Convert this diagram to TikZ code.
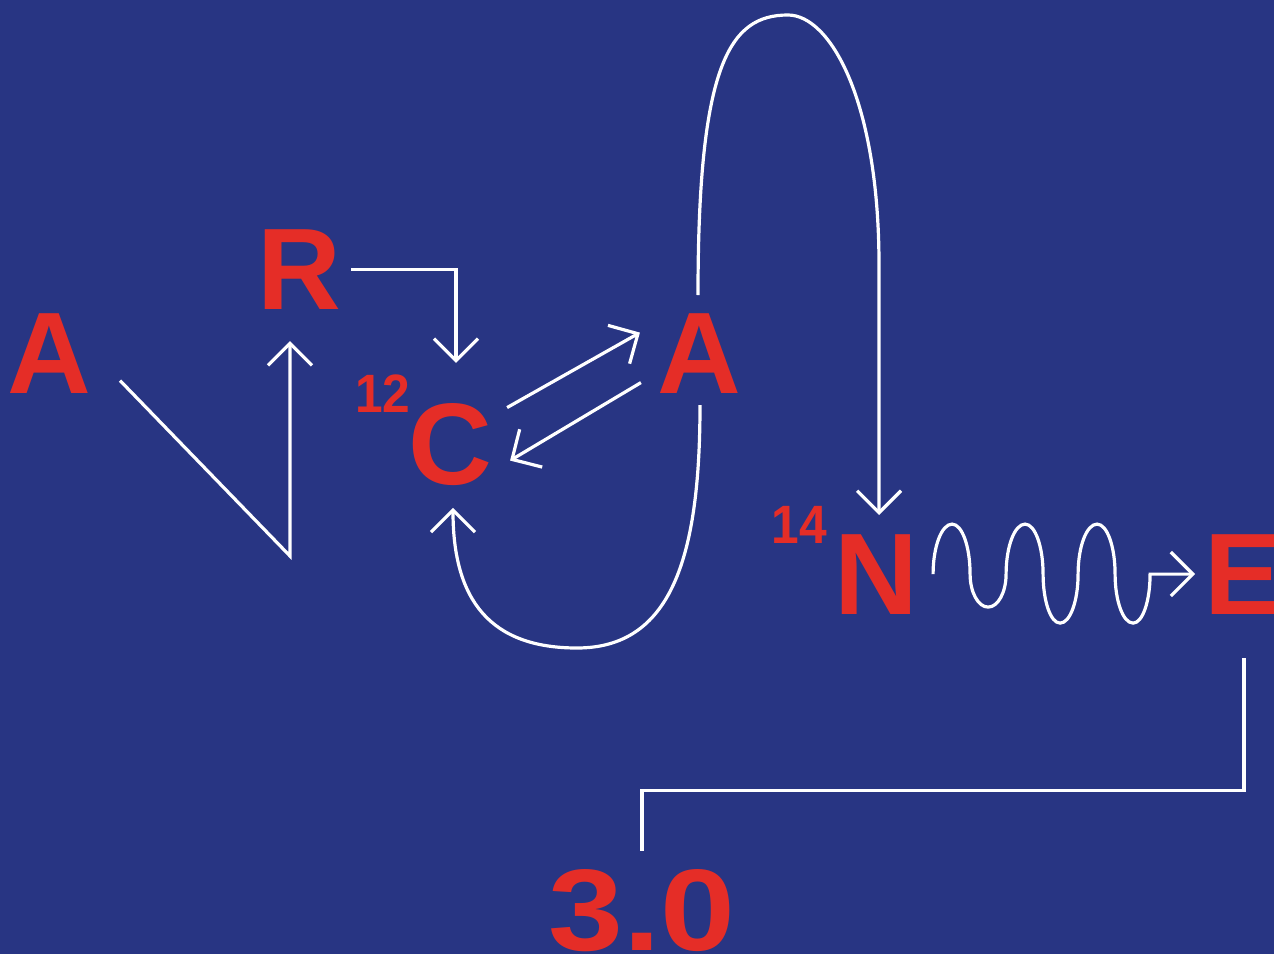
\documentclass[tikz,border=0pt]{standalone}
\usepackage{fontspec}
\setmainfont{Liberation Sans}
\usepackage{tikz}
\usetikzlibrary{arrows.meta,calc}
\definecolor{Navy}{RGB}{40,53,131}
\definecolor{AtomRed}{RGB}{229,45,39}
\tikzset{
  atom/.style={
    text=AtomRed,
    inner sep=0pt,
    anchor=base,
    font=\fontsize{116}{120}\selectfont\bfseries
  },
  massno/.style={
    text=AtomRed,
    inner sep=0pt,
    anchor=base,
    font=\fontsize{54}{58}\selectfont\bfseries
  },
  link/.style={
    draw=white,
    line width=3.2pt
  },
  linkarrow/.style={
    link,
    -{Straight Barb[length=22pt,width=44pt]}
  }
}

\begin{document}
\begin{tikzpicture}[x=1pt,y=-1pt]
\useasboundingbox (0,0) rectangle (1274,954);
\fill[Navy] (0,0) rectangle (1274,954);
\node[atom] (aL) at (49,393) {A};
\node[atom] (rR) at (299,309) {R};
\node[atom] (cC) at (450,484) {C};
\node[massno, xscale=0.92] (m12) at (383,412) {12};
\node[atom] (aR) at (699,393) {A};
\node[atom] (nN) at (876.5,614) {N};
\node[massno, xscale=0.92] (m14) at (799,543) {14};
\node[atom] (eE) at (1243,614) {E};
\node[atom, xscale=1.16] (v30) at (642,950) {3.0};
\coordinate (vee) at (290,556);
\coordinate (archtop) at (788,15);
\coordinate (archfoot) at (879,265);
\coordinate (loopbottom) at (577,648);
\draw[linkarrow] ($(aL.east)+(29,27.5)$) -- (vee) -- ($(rR.south)+(-9,32)$);
\draw[linkarrow] ($(rR.east)+(10,0)$) -| ($(cC.north)+(6,-40)$);
\draw[linkarrow] ($(cC.east)+(15,-36.5)$) -- ($(aR.west)+(-17,-20.5)$);
\draw[linkarrow] ($(aR.west)+(-16,29.5)$) -- ($(cC.east)+(18,16.5)$);
\draw[linkarrow] ($(aR.north)+(-1,-18)$) .. controls +(0,-232) and +(-58,0) .. (archtop)
  .. controls +(42,0) and +(0,-165) .. (archfoot) -- ($(nN.north)+(2.5,-19)$);
\draw[linkarrow] ($(aR.south)+(1,12)$) .. controls +(0,155) and +(93,0) .. (loopbottom)
  .. controls +(-87,0) and +(0,92) .. ($(cC.south)+(3,22.6)$);
\draw[linkarrow] ($(nN.east)+(14.5,0)$)
  .. controls +(0,-27.5) and +(-10.5,0) .. ++(19,-50) .. controls +(10,0) and +(0,-27.5) .. ++(18,50)
  .. controls +(0,18) and +(-10,0) .. ++(18,33) .. controls +(10,0) and +(0,18) .. ++(18,-33)
  .. controls +(0,-27.5) and +(-10.5,0) .. ++(19,-50) .. controls +(10,0) and +(0,-27.5) .. ++(18,50)
  .. controls +(0,27) and +(-9.5,0) .. ++(17,49) .. controls +(10,0) and +(0,27) .. ++(18,-49)
  .. controls +(0,-27.5) and +(-10.5,0) .. ++(19,-50) .. controls +(10,0) and +(0,-27.5) .. ++(18,50)
  .. controls +(0,27) and +(-10,0) .. ++(18,49) .. controls +(9.5,0) and +(0,27) .. ++(17,-49)
  -- ($(eE.west)+(-9,0)$);
\draw[link] ($(eE.south)+(1,44)$) -- ++(0,132) -| ($(v30.north)+(0,-18)$);
\end{tikzpicture}
\end{document}
